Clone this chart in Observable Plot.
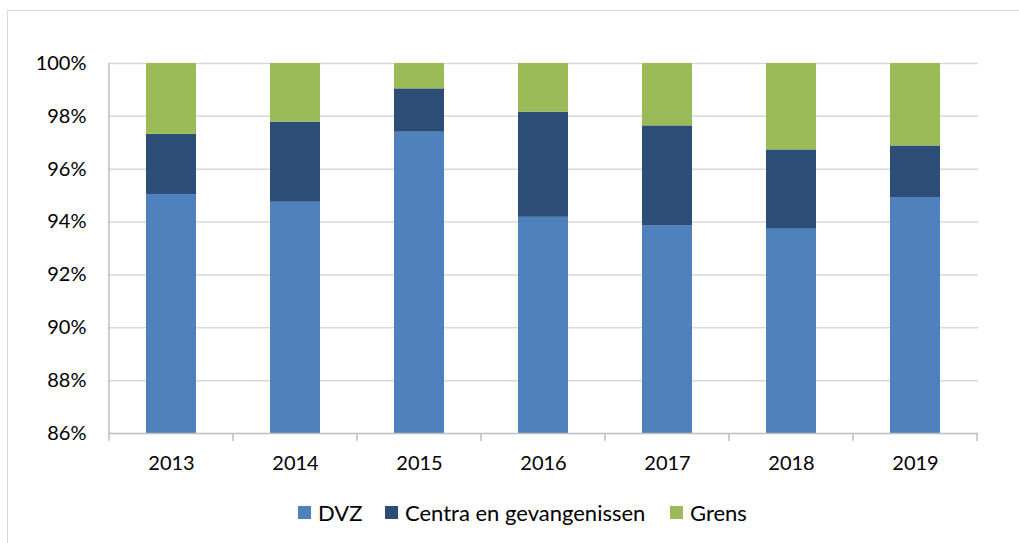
<!DOCTYPE html>
<html>
<head>
<meta charset="utf-8">
<script src="https://cdn.jsdelivr.net/npm/d3@7"></script>
<script src="https://cdn.jsdelivr.net/npm/@observablehq/plot@0.6"></script>
<style>
  html, body { margin: 0; padding: 0; background: #fff; }
  body { width: 1019px; height: 543px; position: relative; overflow: hidden; font-family: Lato, "Open Sans", sans-serif; }
  #frame { position: absolute; left: 7px; top: 10px; width: 1100px; height: 600px; border: 1px solid #d9d9d9; box-sizing: border-box; }
  #chart { position: absolute; left: 0; top: 0; }
  #legend { position: absolute; top: 499px; left: 0; width: 1019px; height: 26px; }
  .item { position: absolute; top: 0; display: flex; align-items: center; height: 26px; font-size: 22px; color: #000; white-space: nowrap; }
  .sw { width: 13px; height: 13px; margin-right: 7px; }
</style>
</head>
<body>
<div id="frame"></div>
<div id="chart"></div>
<div id="legend"></div>
<script>
const years = ["2013", "2014", "2015", "2016", "2017", "2018", "2019"];
const dvz    = [95.04, 94.75, 97.40, 94.18, 93.85, 93.73, 94.93];
const centra = [2.28, 3.03, 1.64, 3.98, 3.79, 3.00, 1.95];
const grens  = [2.68, 2.22, 0.96, 1.84, 2.36, 3.27, 3.12];
const seriesNames = ["DVZ", "Centra en gevangenissen", "Grens"];
const seriesColors = ["#4f81bd", "#2c4d75", "#9bbb59"];
const yTicks = [86, 88, 90, 92, 94, 96, 98, 100];

const seriesValues = [dvz, centra, grens];
const rows = [];
years.forEach((yr, i) => {
  seriesNames.forEach((s, j) => rows.push({year: yr, series: s, value: seriesValues[j][i]}));
});

const W = 1019, H = 480;
const chart = Plot.plot({
  width: W, height: H,
  marginLeft: 108, marginRight: 41, marginTop: 63, marginBottom: 47,
  style: {fontFamily: "Lato, 'Open Sans', sans-serif", fontSize: "20px", color: "#000", background: "transparent"},
  x: {domain: years, paddingInner: 0.6, paddingOuter: 0.3, label: null},
  y: {domain: [86, 100], label: null},
  color: {domain: seriesNames, range: seriesColors},
  marks: [
    Plot.ruleY(yTicks.filter(d => d > 86), {y: d => d, stroke: "#d9d9d9", strokeWidth: 1.5}),
    Plot.barY(rows, Plot.stackY({x: "year", y: "value", fill: "series", order: seriesNames, clip: true})),
    Plot.ruleY([86], {stroke: "#bfbfbf", strokeWidth: 1.5}),
    Plot.axisY({ticks: yTicks, tickFormat: d => d + "%", tickSize: 0, tickPadding: 22, fontSize: 20, fill: "#000"}),
    Plot.axisX({tickSize: 0, tickPadding: 22, fontSize: 20, fill: "#000"})
  ]
});
document.getElementById("chart").appendChild(chart);

// left axis line and category boundary tick marks, placed with the plot's scales
const xs = chart.scale("x"), ys = chart.scale("y");
const svg = d3.select(chart);
const yTop = ys.apply(100), yBot = ys.apply(86);
const gap = (xs.step - xs.bandwidth) / 2;
const edges = years.map(y => xs.apply(y) - gap).concat([xs.apply(years[years.length - 1]) + xs.bandwidth + gap]);
svg.append("line").attr("x1", edges[0]).attr("x2", edges[0]).attr("y1", yTop).attr("y2", yBot)
  .attr("stroke", "#bfbfbf").attr("stroke-width", 1.5);
svg.append("g").selectAll("line").data(edges).join("line")
  .attr("x1", d => d).attr("x2", d => d).attr("y1", yBot).attr("y2", yBot + 8)
  .attr("stroke", "#bfbfbf").attr("stroke-width", 1.5);

// legend
const legendX = [298, 385, 670];
const legend = document.getElementById("legend");
seriesNames.forEach((s, i) => {
  const it = document.createElement("div");
  it.className = "item";
  it.style.left = legendX[i] + "px";
  it.innerHTML = `<span class="sw" style="background:${seriesColors[i]}"></span><span>${s}</span>`;
  legend.appendChild(it);
});
</script>
</body>
</html>
